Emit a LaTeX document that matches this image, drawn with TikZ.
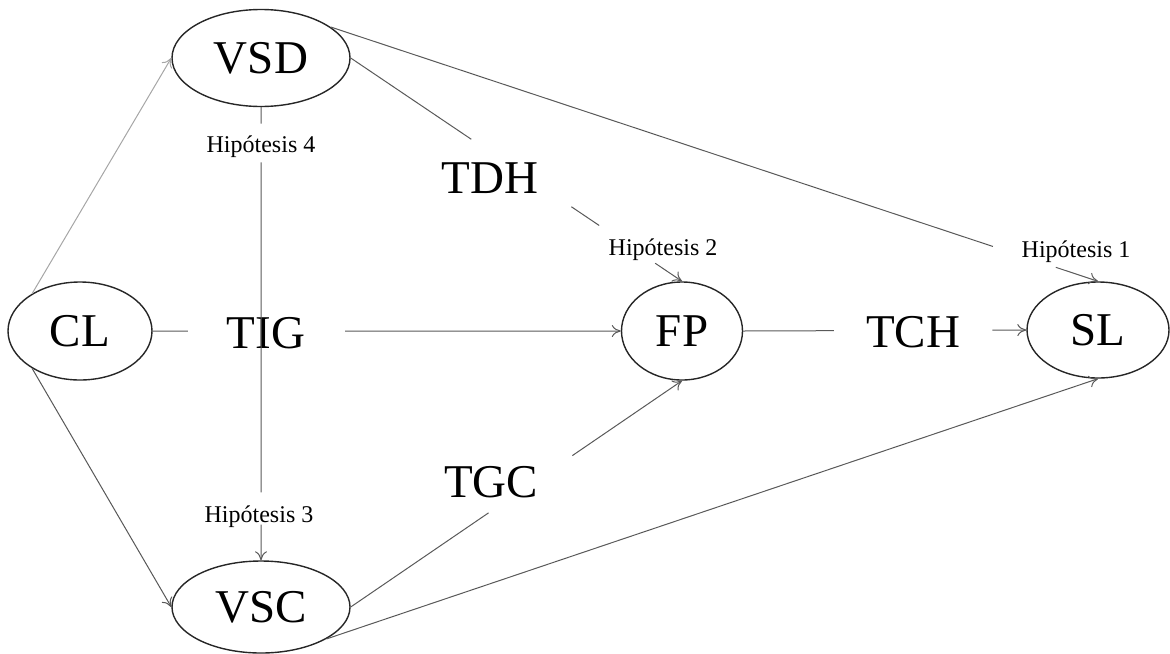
\documentclass[tikz,border=0pt]{standalone}
\usepackage{fontspec}
\setmainfont{Liberation Serif}
\usetikzlibrary{shapes.geometric,arrows.meta,calc}
\tikzset{
  var/.style={ellipse, draw=black!85, line width=0.7pt, inner sep=0pt, font=\fontsize{23.5}{28}\selectfont},
  theory/.style={anchor=base, inner sep=0pt, font=\fontsize{23.5}{28}\selectfont},
  hyp/.style={anchor=base, inner sep=0pt, font=\fontsize{12}{14}\selectfont},
  link/.style={black!65, line width=0.5pt},
  arrow/.style={link, -{To[length=4.5pt,width=6pt]}}
}
\begin{document}
\begin{tikzpicture}[x=0.5pt, y=-0.5pt]
  \useasboundingbox (0,0) rectangle (1170,653);
  \node[var, minimum width=72pt, minimum height=49pt] (CL) at (80,331) {CL};
  \node[var, minimum width=89pt, minimum height=48.5pt] (VSD) at (261,58) {VSD};
  \node[var, minimum width=89pt, minimum height=46pt] (VSC) at (261,607) {VSC};
  \node[var, minimum width=60.5pt, minimum height=49pt] (FP) at (682,331) {FP};
  \node[var, minimum width=71pt, minimum height=48pt] (SL) at (1098,330) {SL};
  \node[theory] (TIG) at (266,348) {TIG};
  \node[theory] (TDH) at (490,193) {TDH};
  \node[theory] (TGC) at (491,497) {TGC};
  \node[theory] (TCH) at (913,347) {TCH};
  \node[hyp] (h1) at (1076,257) {Hipótesis 1};
  \node[hyp] (h2) at (663,255) {Hipótesis 2};
  \node[hyp] (h3) at (259,522) {Hipótesis 3};
  \node[hyp] (h4) at (261,152) {Hipótesis 4};
  \draw[arrow, black!35] (CL.142) -- (VSD.west);
  \draw[arrow] (CL.218) -- (VSC.west);
  \draw[link] (CL.east) -- ($(CL.east)!.075!(FP.west)$);
  \draw[arrow] ($(CL.east)!.411!(FP.west)$) -- (FP.west);
  \draw[link] (VSD.south) -- ($(VSD.south)!.036!(VSC.north)$);
  \draw[link] ($(VSD.south)!.122!(VSC.north)$) -- ($(VSD.south)!.850!(VSC.north)$);
  \draw[arrow] ($(VSD.south)!.921!(VSC.north)$) -- (VSC.north);
  \draw[link] (VSD.east) -- ($(VSD.east)!.364!(FP.north)$);
  \draw[link] ($(VSD.east)!.666!(FP.north)$) -- ($(VSD.east)!.750!(FP.north)$);
  \draw[arrow] ($(VSD.east)!.919!(FP.north)$) -- (FP.north);
  \draw[link] (VSD.24) -- ($(VSD.24)!.863!(SL.north)$);
  \draw[arrow] ($(VSD.24)!.945!(SL.north)$) -- (SL.north);
  \draw[link] (FP.east) -- ($(FP.east)!.320!(SL.west)$);
  \draw[arrow] ($(FP.east)!.880!(SL.west)$) -- (SL.west);
  \draw[link] (VSC.east) -- ($(VSC.east)!.416!(FP.south)$);
  \draw[arrow] ($(VSC.east)!.669!(FP.south)$) -- (FP.south);
  \draw[arrow] (VSC.-26) -- (SL.south);
\end{tikzpicture}
\end{document}
